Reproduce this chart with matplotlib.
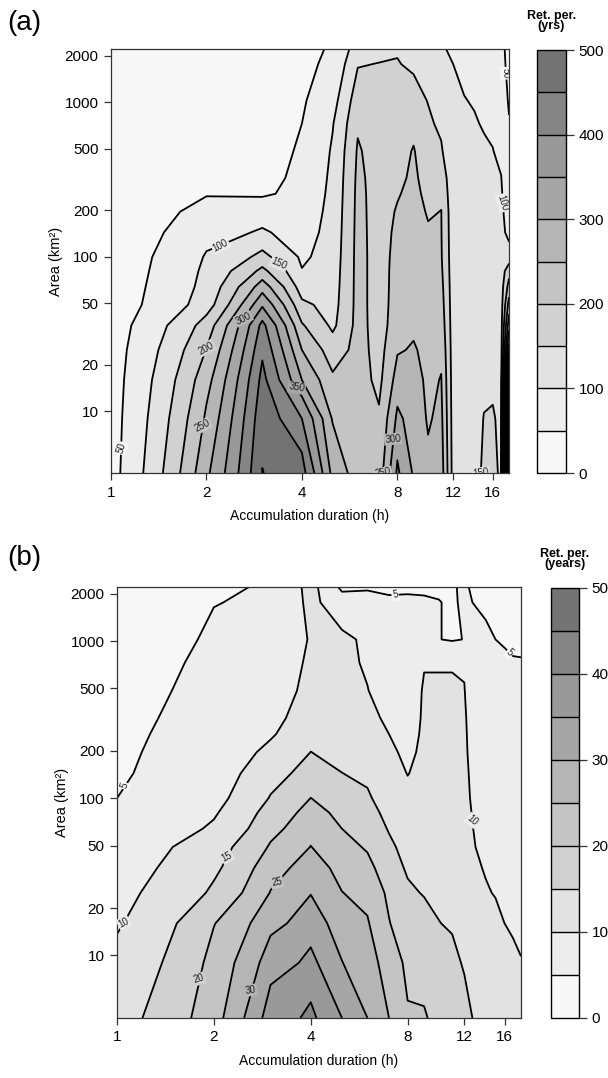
import numpy as np
import matplotlib
matplotlib.use("Agg")
import matplotlib.pyplot as plt
from matplotlib.colors import ListedColormap, BoundaryNorm
from matplotlib.cm import ScalarMappable
from matplotlib.ticker import NullLocator

plt.rcParams['font.family'] = ['Liberation Sans', 'DejaVu Sans']

# grid: accumulation duration (h) x area (km2)
durations = list(range(1, 19))
areas = [4, 9, 16, 25, 36, 49, 64, 81, 100, 144, 196, 256, 324, 484, 729, 1024, 1764, 2209]

# (a) return period (yrs), one list per duration, values along `areas`
ret_a = [
    [32, 31, 30, 29, 27, 25, 24, 22, 21, 20, 20, 18, 16, 14, 12, 10, 8, 6],
    [290, 258, 232, 202, 172, 125, 115, 110, 104, 84, 66, 47, 40, 34, 30, 26, 22, 20],
    [501, 485, 465, 440, 415, 342, 276, 213, 164, 105, 79, 43, 38, 34, 30, 27, 24, 22],
    [470, 400, 300, 250, 205, 160, 125, 102, 92, 80, 72, 66, 60, 55, 50, 45, 40, 38],
    [285, 245, 208, 172, 140, 132, 128, 125, 122, 118, 115, 112, 110, 105, 97, 82, 60, 55],
    [225, 222, 220, 218, 216, 215, 215, 215, 215, 214, 213, 212, 210, 205, 193, 178, 146, 125],
    [222, 205, 188, 182, 180, 180, 180, 180, 180, 180, 180, 180, 180, 178, 175, 170, 152, 130],
    [358, 310, 270, 245, 225, 220, 218, 217, 215, 210, 204, 196, 188, 182, 178, 172, 153, 145],
    [294, 280, 268, 255, 240, 235, 232, 230, 228, 224, 220, 215, 210, 203, 185, 170, 140, 128],
    [258, 245, 240, 235, 230, 226, 222, 218, 212, 205, 195, 185, 177, 168, 158, 148, 120, 110],
    [275, 262, 252, 240, 228, 220, 214, 208, 204, 202, 201, 190, 180, 155, 140, 128, 112, 104],
    [130, 128, 126, 125, 124, 123, 122, 121, 120, 118, 116, 114, 112, 110, 108, 105, 100, 94],
    [128, 125, 123, 122, 121, 120, 120, 119, 118, 116, 114, 112, 110, 108, 105, 101, 92, 88],
    [130, 125, 122, 120, 120, 119, 118, 117, 116, 114, 112, 110, 108, 105, 102, 98, 88, 82],
    [160, 152, 135, 125, 120, 118, 116, 115, 114, 112, 110, 108, 106, 103, 98, 92, 82, 76],
    [165, 155, 138, 128, 122, 118, 116, 114, 112, 110, 107, 105, 103, 101, 92, 85, 75, 70],
    [140, 138, 136, 135, 133, 130, 128, 125, 122, 115, 110, 105, 101, 90, 80, 72, 64, 62],
    [3000, 2500, 1500, 420, 330, 270, 220, 180, 120, 85, 75, 70, 65, 58, 52, 46, 38, 35],
]

# (b) return period (years)
ret_b = [
    [13, 11, 9.5, 8.7, 8, 7.3, 6.7, 5.4, 5.0, 4.6, 4.4, 4.2, 4, 3.7, 3.5, 3.2, 3, 2.8],
    [23, 21.5, 19.8, 15.8, 14, 12.8, 10.6, 9.5, 8.5, 7.8, 7.5, 7.2, 6.9, 6.4, 5.9, 5.5, 4.9, 4.6],
    [37.5, 32.5, 28.5, 25.2, 23, 20.5, 18.5, 17, 15.3, 13, 11, 9.5, 8.6, 7.5, 6.8, 6.2, 5.6, 5.3],
    [41, 36.2, 32.5, 29.8, 27.5, 25.1, 23.5, 21.8, 20.05, 17.2, 15.05, 13.6, 12.6, 11.5, 10.9, 10.4, 11.2, 11.6],
    [35, 30.1, 27.5, 25.1, 23.2, 21.5, 20, 18.6, 17.4, 15.05, 13.5, 12.4, 11.6, 11.2, 11, 10.8, 7, 4],
    [30, 27.3, 25.4, 23.5, 21.2, 19.5, 18.3, 16.8, 15.6, 14, 12.8, 11.9, 11.1, 10.1, 9.5, 9.3, 8, 4],
    [25, 22.5, 20.2, 19, 17.5, 16, 14.6, 13.5, 12.6, 11.5, 10.6, 10, 9.2, 8.2, 7.4, 6.8, 5.8, 4],
    [20.3, 19, 17.3, 15.8, 14.3, 13.2, 12.3, 11.4, 10.8, 9.9, 9.3, 8.9, 8.6, 8.3, 7.5, 6.8, 5.8, 4.2],
    [20.3, 18.3, 16.5, 14.7, 13.8, 13, 12.4, 11.9, 11.5, 11, 10.7, 10.5, 10.4, 10.3, 9.8, 8, 5.5, 4.3],
    [19, 17, 15.1, 14, 13.2, 12.7, 12.3, 12, 11.6, 11.2, 10.9, 10.7, 10.5, 10.3, 9.8, 5.1, 5.1, 4.5],
    [17.5, 16, 14.5, 13.6, 12.9, 12.4, 12, 11.7, 11.4, 11.1, 10.9, 10.7, 10.6, 10.3, 9.8, 4.6, 4.6, 4.7],
    [16, 14.6, 13.5, 12.8, 12.3, 11.9, 11.5, 11.2, 11, 10.8, 10.6, 10.5, 10.4, 10.1, 9.7, 5.1, 5.5, 5.5],
    [14.6, 13, 12, 11.2, 10.5, 10, 9.6, 9.3, 9, 8.7, 8.4, 8.2, 8, 7.6, 7, 6.2, 4.8, 4.2],
    [14, 12.3, 11.3, 10.3, 9.7, 9.2, 8.8, 8.5, 8.3, 8, 7.7, 7.5, 7.2, 6.8, 6.2, 5.5, 4.4, 4],
    [13, 11.5, 10.8, 9.8, 9.2, 8.8, 8.4, 8.1, 7.9, 7.5, 7.2, 7, 6.7, 6.2, 5.6, 5, 4.2, 3.9],
    [12, 11, 10, 9.3, 8.8, 8.4, 8, 7.7, 7.5, 7.1, 6.8, 6.5, 6.2, 5.8, 5.3, 4.8, 4.1, 3.8],
    [11.5, 10.5, 9.6, 9, 8.5, 8.1, 7.7, 7.4, 7.2, 6.8, 6.5, 6.2, 5.9, 5.5, 5.1, 4.7, 4, 3.7],
    [11, 10.1, 9.3, 8.8, 8.3, 7.9, 7.5, 7.2, 7, 6.6, 6.3, 6, 5.7, 5.4, 5.1, 4.6, 3.9, 3.6],
]

levels_a = list(range(0, 501, 50))
levels_b = list(range(0, 51, 5))

# contour labels: (level, duration, area)
labels_a = [(50, 1.07, 6), (100, 2.2, 123), (150, 3.35, 80), (200, 2.02, 22),
            (250, 1.95, 5.5), (300, 2.6, 44), (350, 3.85, 15), (250, 7.2, 5.2),
            (300, 7.75, 5.2), (150, 14.6, 6), (100, 17.4, 230), (50, 17.4, 1540)]
labels_b = [(5, 1.1, 118), (10, 1.06, 14), (15, 2.2, 42), (20, 1.8, 5.5),
            (25, 3.14, 31), (30, 2.6, 5.5), (5, 7.4, 1920), (5, 16.8, 870),
            (10, 12.6, 57)]

greys = ['#f7f7f7', '#ededed', '#e2e2e2', '#d1d1d1', '#c4c4c4',
         '#b5b5b5', '#a6a6a6', '#999999', '#858585', '#737373']

fig = plt.figure(figsize=(6.08, 10.78), dpi=100)


def draw_panel(ax, cax, z, levels, labels, yticks, title, tag, tag_y):
    X, Y = np.meshgrid(durations, areas)
    Z = np.array(z, dtype=float).T
    ax.contourf(X, Y, Z, levels=levels + [1e6], colors=greys + ['black'])
    for i, lev in enumerate(levels):
        if not (Z.min() < lev < Z.max()):
            continue
        cs = ax.contour(X, Y, Z, levels=[lev], colors='black', linewidths=1.3)
        pos = [(d, a) for (l, d, a) in labels if l == lev]
        if pos:
            texts = ax.clabel(cs, manual=pos, fmt='%d', fontsize=7,
                              inline=False)
            for t in texts:
                t.set_bbox(dict(boxstyle='square,pad=0.1',
                                fc=greys[i - 1], ec='none'))
                t.set_color('#222222')
    ax.set_xscale('log')
    ax.set_yscale('log')
    ax.set_xlim(1, 18)
    ax.set_ylim(4, 2209)
    ax.set_xticks([1, 2, 4, 8, 12, 16])
    ax.set_xticklabels(['1', '2', '4', '8', '12', '16'])
    ax.set_yticks(yticks)
    ax.set_yticklabels([str(t) for t in yticks])
    ax.xaxis.set_minor_locator(NullLocator())
    ax.yaxis.set_minor_locator(NullLocator())
    ax.tick_params(direction='out', length=5, width=0.9, labelsize=11,
                   color='#333333', pad=4)
    for sp in ax.spines.values():
        sp.set_linewidth(0.9)
        sp.set_color('#333333')
    ax.set_xlabel('Accumulation duration (h)', fontsize=10, labelpad=7)
    ax.set_ylabel('Area (km²)', fontsize=10.5, labelpad=1)

    # colour key with a black line between bands
    cmap = ListedColormap(greys)
    norm = BoundaryNorm(levels, cmap.N)
    sm = ScalarMappable(norm=norm, cmap=cmap)
    cb = fig.colorbar(sm, cax=cax, ticks=levels[::2])
    cb.minorticks_off()
    cb.outline.set_linewidth(1.0)
    for lev in levels[1:-1]:
        cax.axhline(lev, color='black', linewidth=1.0)
    cax.tick_params(which='major', direction='out', length=6, width=0.9,
                    labelsize=11, color='#333333', pad=3)
    cax.set_title(title, fontsize=9, fontweight='bold', linespacing=0.8,
                  pad=15)
    fig.text(0.012, tag_y, tag, fontsize=20, va='center', ha='left')


ax_a = fig.add_axes([0.1826, 0.5612, 0.6546, 0.3933])
cax_a = fig.add_axes([0.8832, 0.5612, 0.0477, 0.3924])
draw_panel(ax_a, cax_a, ret_a, levels_a, labels_a,
           [10, 20, 50, 100, 200, 500, 1000, 2000], 'Ret. per.\n(yrs)',
           '(a)', 0.979)

ax_b = fig.add_axes([0.1924, 0.0557, 0.6645, 0.3998])
cax_b = fig.add_axes([0.9063, 0.0557, 0.0461, 0.3989])
draw_panel(ax_b, cax_b, ret_b, levels_b, labels_b,
           [10, 20, 50, 100, 200, 500, 1000, 2000], 'Ret. per.\n(years)',
           '(b)', 0.482)

fig.savefig('out.png', dpi=100)
